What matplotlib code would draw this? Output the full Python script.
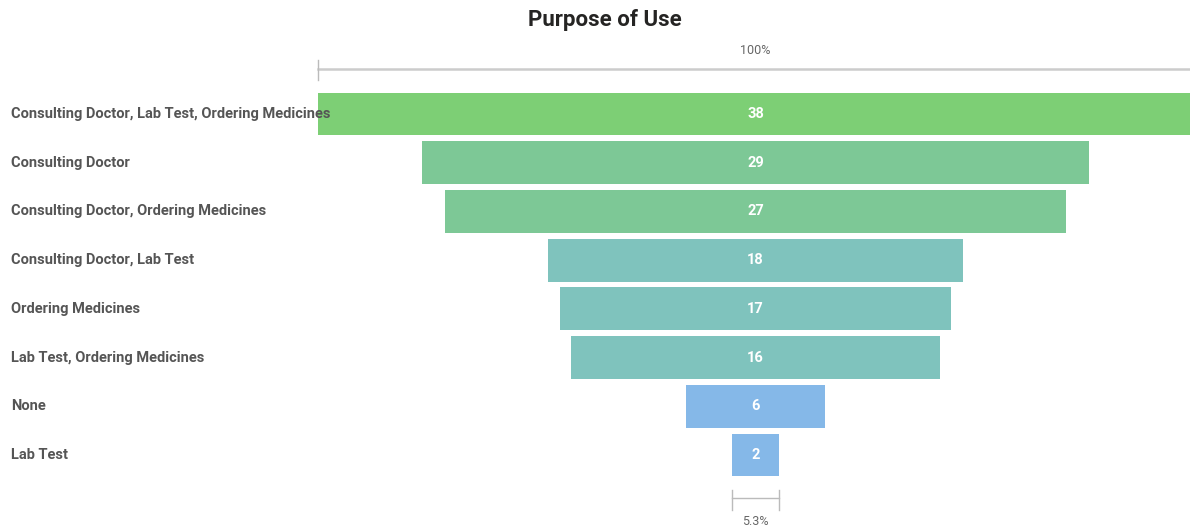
import matplotlib.pyplot as plt
import matplotlib.transforms as mtransforms

# funnel data
stages = ['Consulting Doctor, Lab Test, Ordering Medicines', 'Consulting Doctor',
          'Consulting Doctor, Ordering Medicines', 'Consulting Doctor, Lab Test',
          'Ordering Medicines', 'Lab Test, Ordering Medicines', 'None', 'Lab Test']
counts = [38, 29, 27, 18, 17, 16, 6, 2]
colors = ['#7DCF75', '#7DC896', '#7DC896', '#7FC3BD', '#7FC3BD', '#7FC3BD', '#85B8E8', '#85B8E8']

plt.rcParams['font.family'] = ['Roboto', 'DejaVu Sans']

W, H = 1190, 531
fig = plt.figure(figsize=(W / 100, H / 100), dpi=100)
ax = fig.add_axes([318 / W, 1 - 510 / H, 875 / W, (510 - 69) / H])

top = max(counts)
rows = range(len(counts))
left = [-c / 2 for c in counts]
ax.barh(rows, counts, left=left, height=0.88, color=colors)
ax.set_xlim(-top / 2, top / 2)
ax.set_ylim(8.13, -0.924)
ax.axis('off')

# value labels in the bars
for i, c in enumerate(counts):
    ax.text(0, i, str(c), ha='center', va='center', color='white',
            fontsize=10.5, fontweight='bold')

# category labels at the left edge of the figure
lab_tr = mtransforms.blended_transform_factory(fig.transFigure, ax.transData)
for i, s in enumerate(stages):
    ax.text(11 / W, i, s, transform=lab_tr, ha='left', va='center',
            color='#555555', fontsize=10.5, fontweight='bold', clip_on=False)

# 100% scale line on top
ax.plot([-top / 2, top / 2], [-0.924, -0.924], color='#CCCCCC', lw=1.8, clip_on=False)
ax.plot([-top / 2, -top / 2], [-1.11, -0.70], color='#BBBBBB', lw=1, clip_on=False)
ax.text(0, -1.31, '100%', ha='center', va='center', color='#666666', fontsize=9)

# bracket under the last stage
last = counts[-1]
yb = 7.885
ax.plot([-last / 2, last / 2], [yb, yb], color='#BBBBBB', lw=1, clip_on=False)
for xb in (-last / 2, last / 2):
    ax.plot([xb, xb], [7.72, 8.13], color='#BBBBBB', lw=1, clip_on=False)
ax.text(0, 8.36, '{:.1f}%'.format(100 * last / top), ha='center', va='center',
        color='#666666', fontsize=9, clip_on=False)

fig.text(605 / W, 1 - 20 / H, 'Purpose of Use', ha='center', va='center',
         fontsize=16, fontweight='bold', color='#252423')

fig.savefig('out.png', dpi=100)
